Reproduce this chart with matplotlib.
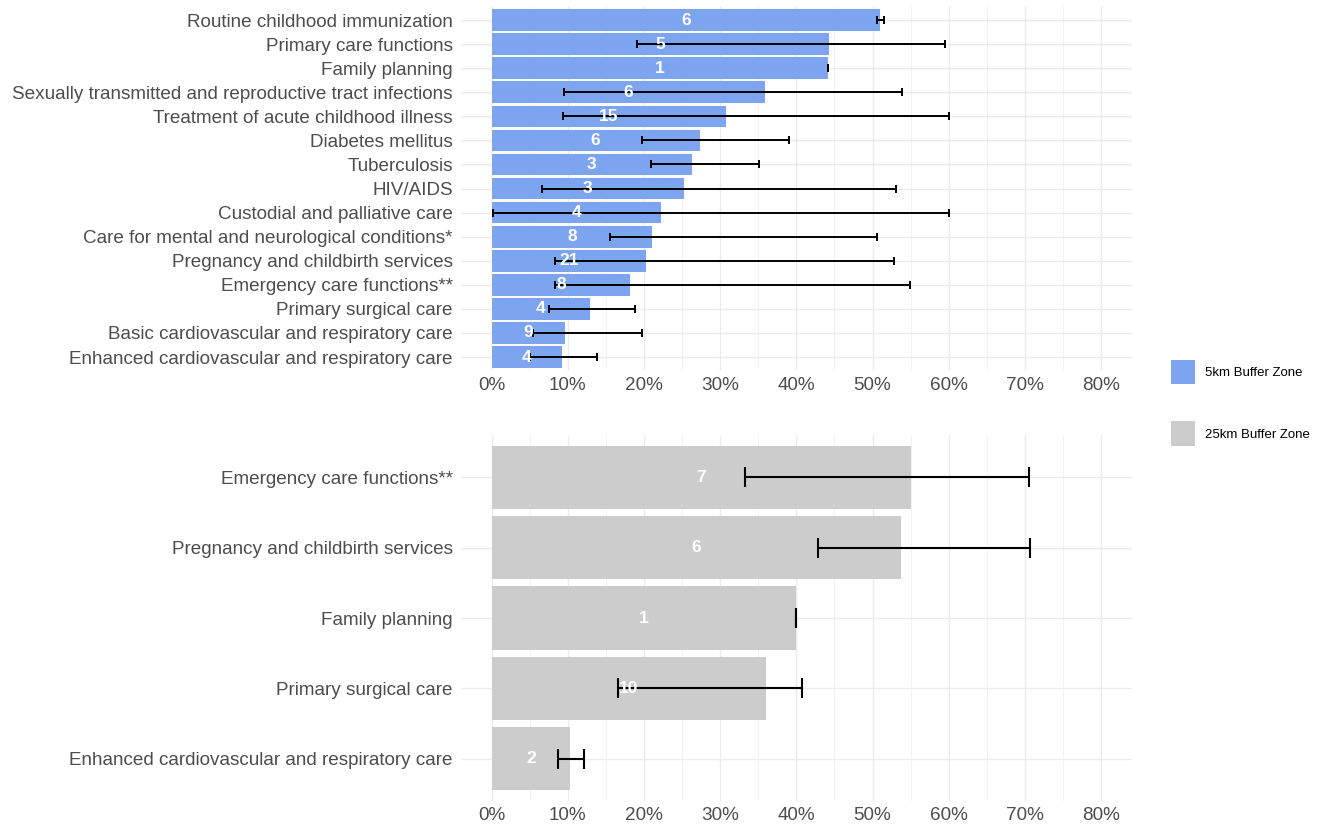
import matplotlib.pyplot as plt
import numpy as np
from matplotlib.patches import Patch

plt.rcParams['font.family'] = ['Liberation Sans', 'DejaVu Sans']

# 5km buffer zone
services_5km = [
    "Routine childhood immunization",
    "Primary care functions",
    "Family planning",
    "Sexually transmitted and reproductive tract infections",
    "Treatment of acute childhood illness",
    "Diabetes mellitus",
    "Tuberculosis",
    "HIV/AIDS",
    "Custodial and palliative care",
    "Care for mental and neurological conditions*",
    "Pregnancy and childbirth services",
    "Emergency care functions**",
    "Primary surgical care",
    "Basic cardiovascular and respiratory care",
    "Enhanced cardiovascular and respiratory care",
]
mean_5km = [51.0, 44.3, 44.1, 35.9, 30.8, 27.3, 26.3, 25.2, 22.2, 21.1, 20.3, 18.2, 12.9, 9.6, 9.3]
low_5km = [50.6, 19.1, 44.1, 9.5, 9.4, 19.8, 20.9, 6.6, 0.2, 15.6, 8.3, 8.3, 7.6, 5.4, 5.1]
high_5km = [51.5, 59.5, 44.1, 53.9, 60.0, 39.1, 35.1, 53.1, 60.0, 50.6, 52.8, 54.9, 18.8, 19.8, 13.9]
n_5km = [6, 5, 1, 6, 15, 6, 3, 3, 4, 8, 21, 8, 4, 9, 4]

# 25km buffer zone
services_25km = [
    "Emergency care functions**",
    "Pregnancy and childbirth services",
    "Family planning",
    "Primary surgical care",
    "Enhanced cardiovascular and respiratory care",
]
mean_25km = [55.0, 53.7, 39.9, 36.0, 10.3]
low_25km = [33.3, 42.9, 39.9, 16.6, 8.7]
high_25km = [70.5, 70.6, 39.9, 40.7, 12.1]
n_25km = [7, 6, 1, 10, 2]

xticks = [0, 10, 20, 30, 40, 50, 60, 70, 80]
xtick_labels = [f"{t}%" for t in xticks]

blue = "#7DA4EE"
grey = "#CCCCCC"
text_col = "#4D4D4D"

fig = plt.figure(figsize=(13.29, 8.27), dpi=100)
ax_top = fig.add_axes([0.3469, 0.5508, 0.5046, 0.4424])
ax_bot = fig.add_axes([0.3469, 0.0314, 0.5046, 0.4426])


def draw_panel(ax, names, mean, low, high, counts, color, capsize, lw):
    y = np.arange(len(names))
    mean = np.array(mean)
    ax.barh(y, mean, height=0.9, color=color, zorder=2)
    err = [mean - np.array(low), np.array(high) - mean]
    ax.errorbar(mean, y, xerr=err, fmt="none", ecolor="black",
                elinewidth=lw, capsize=capsize, capthick=lw, zorder=3)
    for yi, m, c in zip(y, mean, counts):
        ax.text(m / 2, yi, str(c), color="white", fontweight="bold",
                fontsize=12.5, ha="center", va="center", zorder=4)
    ax.set_yticks(y)
    ax.set_yticklabels(names)
    ax.set_ylim(len(names) - 0.4, -0.6)
    ax.set_xlim(-4, 84)
    ax.set_xticks(xticks)
    ax.set_xticklabels(xtick_labels)
    ax.set_xticks([5, 15, 25, 35, 45, 55, 65, 75], minor=True)
    ax.grid(True, which="major", color="#EBEBEB", linewidth=1.0, zorder=0)
    ax.grid(True, which="minor", axis="x", color="#F2F2F2", linewidth=0.7, zorder=0)
    ax.set_axisbelow(True)
    for s in ax.spines.values():
        s.set_visible(False)
    ax.tick_params(axis="both", which="both", length=0, labelsize=13.6,
                   labelcolor=text_col)
    ax.tick_params(axis="y", pad=6)
    ax.tick_params(axis="x", pad=4)


draw_panel(ax_top, services_5km, mean_5km, low_5km, high_5km, n_5km, blue, 3, 1.4)
draw_panel(ax_bot, services_25km, mean_25km, low_25km, high_25km, n_25km, grey, 7.5, 1.5)

handles = [Patch(facecolor=blue, label="5km Buffer Zone"),
           Patch(facecolor=grey, label="25km Buffer Zone")]
fig.legend(handles=handles, loc="center left", bbox_to_anchor=(0.872, 0.513),
           frameon=False, fontsize=9.5, handlelength=1.8, handleheight=2.5,
           labelspacing=2.8, handletextpad=0.8)

fig.savefig("out.png", dpi=100)
